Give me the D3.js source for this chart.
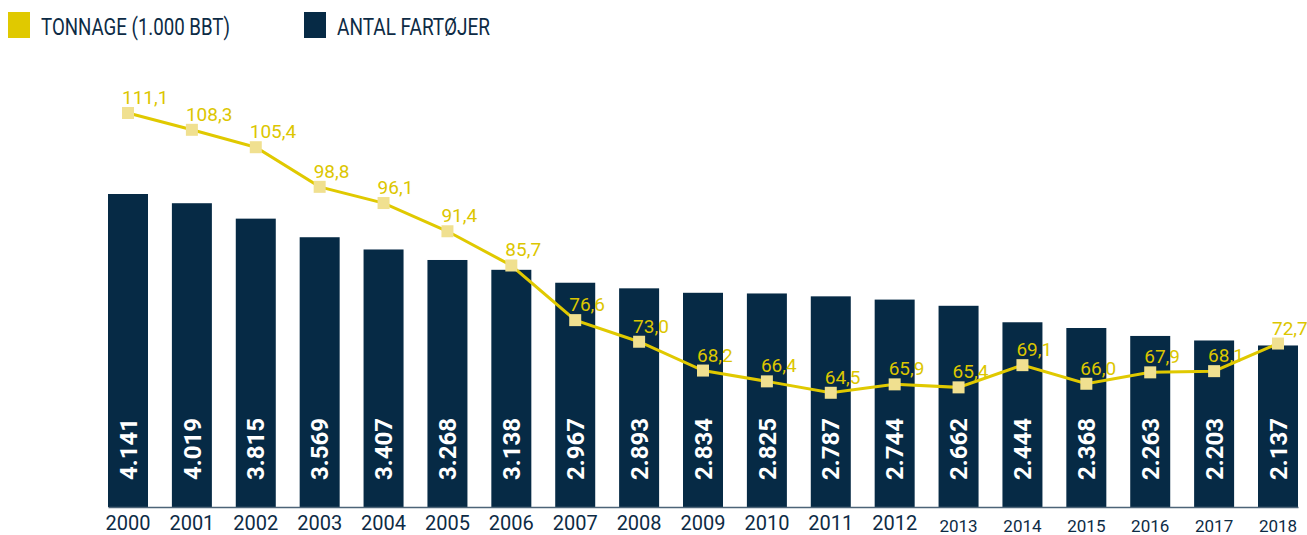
<!DOCTYPE html>
<html>
<head>
<meta charset="utf-8">
<script src="https://cdn.jsdelivr.net/npm/d3@7"></script>
<style>
  html, body { margin: 0; padding: 0; background: #fff; }
  svg { display: block; font-family: Roboto, "Open Sans", sans-serif; }
</style>
</head>
<body>
<svg id="chart" width="1307" height="535"></svg>
<script>
const years = ["2000","2001","2002","2003","2004","2005","2006","2007","2008","2009","2010","2011","2012","2013","2014","2015","2016","2017","2018"];
const vessels = [4141,4019,3815,3569,3407,3268,3138,2967,2893,2834,2825,2787,2744,2662,2444,2368,2263,2203,2137];
const tonnage = [111.1,108.3,105.4,98.8,96.1,91.4,85.7,76.6,73.0,68.2,66.4,64.5,65.9,65.4,69.1,66.0,67.9,68.1,72.7];
const legendLabels = ["TONNAGE (1.000 BBT)", "ANTAL FARTØJER"];

const NAVY = "#062a45";
const YELLOW = "#e0c900";
const MARKER = "#f0e090";
const LABEL_Y = "#dcc600";

const svg = d3.select("#chart");

const x = d3.scaleBand().domain(years).range([108, 1298]).paddingInner(0.374).paddingOuter(0);
const yBar = d3.scaleLinear().domain([0, 4141]).range([507, 194]);
const yLine = d3.scaleLinear().domain([0, 111.1]).range([780, 113]);

const fmtInt = v => d3.format(",")(v).replace(/,/g, ".");
const fmtDec = v => d3.format(".1f")(v).replace(".", ",");

// Bars
svg.append("g").selectAll("rect").data(vessels).join("rect")
  .attr("x", (d, i) => x(years[i]))
  .attr("y", d => yBar(d))
  .attr("width", x.bandwidth())
  .attr("height", d => yBar(0) - yBar(d))
  .attr("fill", NAVY);

// Bar labels (rotated)
svg.append("g").selectAll("text").data(vessels).join("text")
  .attr("transform", (d, i) => `translate(${x(years[i]) + x.bandwidth() / 2},480) rotate(-90)`)
  .attr("dy", "0.36em")
  .attr("text-anchor", "start")
  .attr("fill", "#fff")
  .attr("font-weight", 700)
  .attr("font-size", 24)
  .text(d => fmtInt(d));

// X axis
const axis = svg.append("g").attr("transform", "translate(0,507)")
  .call(d3.axisBottom(x).tickSize(0).tickSizeOuter(0));
axis.select(".domain").attr("stroke", "#4d6478").attr("stroke-width", 1.5);
axis.selectAll(".tick text")
  .attr("dy", 0)
  .attr("y", (d, i) => i >= 13 ? 25 : 23)
  .attr("fill", "#0d2b45")
  .attr("font-family", "Roboto, sans-serif")
  .attr("font-size", (d, i) => i >= 13 ? 17 : 20);

// Line
const cx = (d, i) => x(years[i]) + x.bandwidth() / 2;
svg.append("path").datum(tonnage)
  .attr("fill", "none")
  .attr("stroke", YELLOW)
  .attr("stroke-width", 3)
  .attr("d", d3.line().x(cx).y(d => yLine(d)));

svg.append("g").selectAll("rect").data(tonnage).join("rect")
  .attr("x", (d, i) => cx(d, i) - 6)
  .attr("y", d => yLine(d) - 6)
  .attr("width", 12).attr("height", 12)
  .attr("fill", MARKER);

svg.append("g").selectAll("text").data(tonnage).join("text")
  .attr("x", (d, i) => cx(d, i) - 6)
  .attr("y", d => yLine(d) - 9)
  .attr("fill", LABEL_Y)
  .attr("font-size", 19)
  .text(d => fmtDec(d));

// Legend
const legend = svg.append("g");
const legItems = [
  { label: legendLabels[0], color: YELLOW, x: 8, w: 189 },
  { label: legendLabels[1], color: NAVY, x: 304, w: 153 }
];
legItems.forEach(it => {
  legend.append("rect").attr("x", it.x).attr("y", 12).attr("width", 22).attr("height", 26).attr("fill", it.color);
  legend.append("text").attr("x", it.x + 33).attr("y", 34.5)
    .attr("fill", "#0d2b45").attr("font-size", 23)
    .attr("textLength", it.w).attr("lengthAdjust", "spacingAndGlyphs")
    .text(it.label);
});
</script>
</body>
</html>
